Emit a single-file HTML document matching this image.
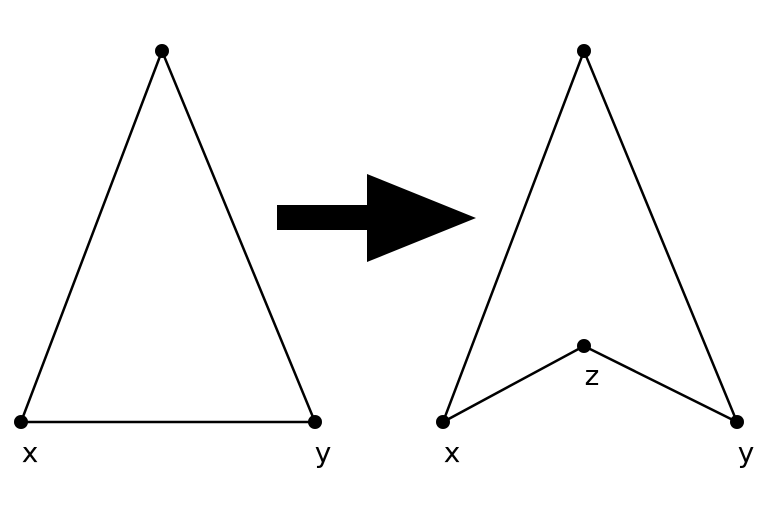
<!DOCTYPE html>
<html><head><style>html,body{margin:0;padding:0;background:#fff;}</style></head>
<body>
<svg width="768" height="512" viewBox="0 0 768 512" xmlns="http://www.w3.org/2000/svg">
<rect width="768" height="512" fill="#fff"/>
<g stroke="#000" stroke-width="2.5" fill="none" stroke-linejoin="miter">
<polygon points="162,51 21,422 315,422"/>
<polygon points="584,51 443,422 584,346 737,422"/>
</g>
<g fill="#000">
<circle cx="162" cy="51" r="7"/><circle cx="21" cy="422" r="7"/><circle cx="315" cy="422" r="7"/>
<circle cx="584" cy="51" r="7"/><circle cx="443" cy="422" r="7"/><circle cx="584" cy="346" r="7"/><circle cx="737" cy="422" r="7"/>
<polygon points="277,205 367,205 367,174 476,218 367,262 367,230 277,230"/>
</g>
<g font-family="DejaVu Sans, Liberation Sans, sans-serif" font-size="28" fill="#000" text-anchor="middle">
<text x="30" y="462">x</text>
<text x="323" y="462">y</text>
<text x="452" y="462">x</text>
<text x="746" y="462">y</text>
<text x="592" y="385">z</text>
</g>
</svg>
</body></html>
